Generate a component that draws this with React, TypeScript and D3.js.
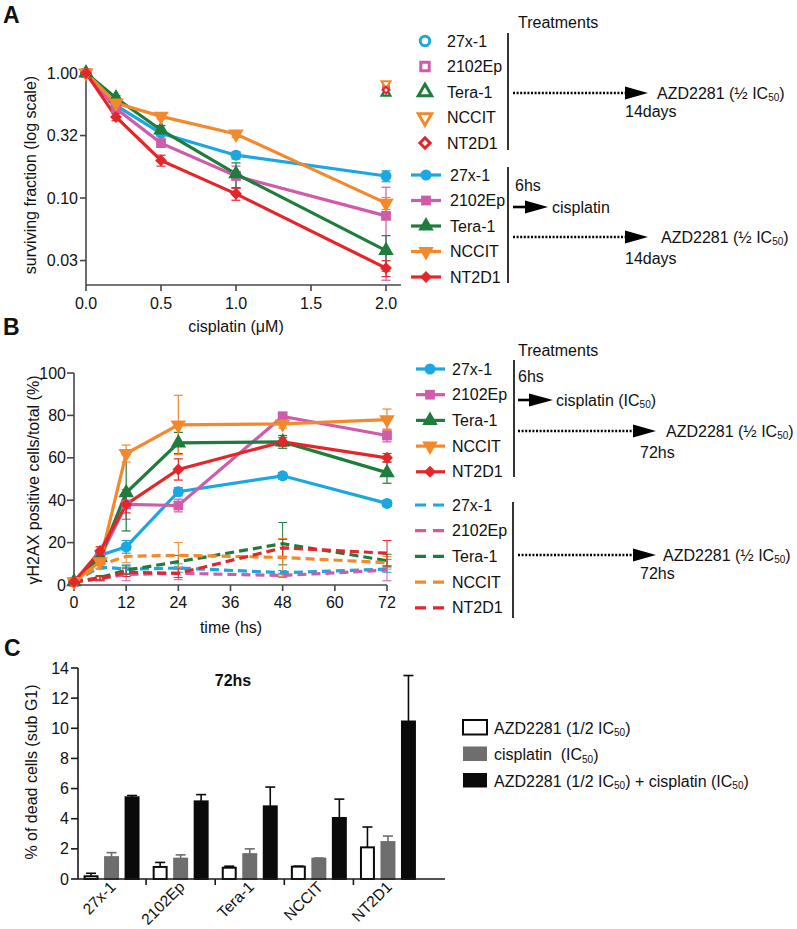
import React from 'react';
import * as d3 from 'd3';

const FONT = '"Liberation Sans", Arial, Helvetica, sans-serif';

const cellLines = ['27x-1', '2102Ep', 'Tera-1', 'NCCIT', 'NT2D1'];
const lineColors = ['#1BA8E0', '#CF5BAA', '#1E7D3C', '#F3892B', '#E4262B'];
const markerShapes = ['circle', 'square', 'triangle', 'triangleDown', 'diamond'];

// ---------- Panel A : clonogenic survival ----------
const doseA = [0, 0.2, 0.5, 1.0, 2.0];
const survA_27x1 = [1, 0.55, 0.33, 0.22, 0.15];
const survA_2102Ep = [1, 0.52, 0.275, 0.15, 0.072];
const survA_Tera1 = [1, 0.63, 0.35, 0.156, 0.038];
const survA_NCCIT = [1, 0.575, 0.45, 0.325, 0.091];
const survA_NT2D1 = [1, 0.445, 0.2, 0.108, 0.0275];
const errA_27x1 = [0, 0.03, 0.02, 0.015, 0.015];
const errA_2102Ep = [0, 0.03, 0.02, 0.03, 0.05];
const errA_Tera1 = [0, 0.03, 0.03, 0.035, 0.012];
const errA_NCCIT = [0, 0.02, 0.02, 0.02, 0.01];
const errA_NT2D1 = [0, 0.03, 0.02, 0.012, 0.004];
const azdAloneA = [0.76, 0.79, 0.69, 0.82, 0.73];
const yTickValsA = [1, 0.316, 0.1, 0.0316];
const yTickLabelsA = ['1.00', '0.32', '0.10', '0.03'];
const xTickValsA = [0, 0.5, 1.0, 1.5, 2.0];
const xTickLabelsA = ['0.0', '0.5', '1.0', '1.5', '2.0'];

// ---------- Panel B : gamma-H2AX ----------
const timeB = [0, 6, 12, 24, 48, 72];
const comboB_27x1 = [1.5, 14, 18, 44, 51.5, 38.5];
const comboB_2102Ep = [1.5, 13, 38, 37.5, 79.5, 70.5];
const comboB_Tera1 = [1.5, 13, 43.5, 67, 67.5, 53];
const comboB_NCCIT = [1.5, 11, 62, 75.5, 76, 78];
const comboB_NT2D1 = [1.5, 16, 38, 54.5, 67.5, 60];
const comboErrB_27x1 = [0.5, 2, 3, 2, 1.5, 1.5];
const comboErrB_2102Ep = [0.5, 2, 7, 3, 2, 3];
const comboErrB_Tera1 = [0.5, 2, 18, 5, 3, 5];
const comboErrB_NCCIT = [0.5, 3, 4, 14, 2, 5];
const comboErrB_NT2D1 = [0.5, 2, 4, 5, 2, 2];
const azdB_27x1 = [1.5, 8.5, 7.5, 8, 5.8, 7.5];
const azdB_2102Ep = [1.5, 3, 5, 5.5, 4.5, 7];
const azdB_Tera1 = [1.5, 3.5, 7, 11, 19.5, 11.5];
const azdB_NCCIT = [1.5, 9.5, 13.5, 14, 13, 10.5];
const azdB_NT2D1 = [1.5, 3, 6, 5.5, 17.5, 15];
const azdErrB_27x1 = [0.5, 1, 2, 2, 1, 1.5];
const azdErrB_2102Ep = [0.5, 1, 3, 3, 1, 5];
const azdErrB_Tera1 = [0.5, 1, 2, 3, 10, 3];
const azdErrB_NCCIT = [0.5, 2, 3, 6, 9, 3];
const azdErrB_NT2D1 = [0.5, 1, 2, 2, 4, 6];
const xTickValsB = [0, 12, 24, 36, 48, 60, 72];
const yTickValsB = [0, 20, 40, 60, 80, 100];

// ---------- Panel C : sub-G1 ----------
const treatmentsC = ['AZD2281 (1/2 IC50)', 'cisplatin (IC50)', 'AZD2281 (1/2 IC50) + cisplatin (IC50)'];
const azdC = [0.18, 0.8, 0.75, 0.82, 2.1];
const azdErrC = [0.2, 0.3, 0.1, 0.03, 1.35];
const cisC = [1.45, 1.35, 1.65, 1.35, 2.45];
const cisErrC = [0.3, 0.25, 0.35, 0.04, 0.4];
const comboC = [5.42, 5.15, 4.82, 4.05, 10.45];
const comboErrC = [0.12, 0.45, 1.28, 1.25, 3.05];
const yTickValsC = [0, 2, 4, 6, 8, 10, 12, 14];

const survivalA = [survA_27x1, survA_2102Ep, survA_Tera1, survA_NCCIT, survA_NT2D1];
const errA = [errA_27x1, errA_2102Ep, errA_Tera1, errA_NCCIT, errA_NT2D1];
const comboB = [comboB_27x1, comboB_2102Ep, comboB_Tera1, comboB_NCCIT, comboB_NT2D1];
const comboErrB = [comboErrB_27x1, comboErrB_2102Ep, comboErrB_Tera1, comboErrB_NCCIT, comboErrB_NT2D1];
const azdB = [azdB_27x1, azdB_2102Ep, azdB_Tera1, azdB_NCCIT, azdB_NT2D1];
const azdErrB = [azdErrB_27x1, azdErrB_2102Ep, azdErrB_Tera1, azdErrB_NCCIT, azdErrB_NT2D1];
const valuesC = [azdC, cisC, comboC];
const errC = [azdErrC, cisErrC, comboErrC];
const barFillC = ['#ffffff', '#6e6e6e', '#0a0a0a'];
const barStrokeC = ['#0a0a0a', '#6e6e6e', '#0a0a0a'];

function markerPath(shape: string, size: number) {
  if (shape === 'circle') return { d: d3.symbol(d3.symbolCircle, size)() as string, rot: 0 };
  if (shape === 'square') return { d: d3.symbol(d3.symbolSquare, size)() as string, rot: 0 };
  if (shape === 'triangle') return { d: d3.symbol(d3.symbolTriangle, size * 1.1)() as string, rot: 0 };
  if (shape === 'triangleDown') return { d: d3.symbol(d3.symbolTriangle, size * 1.1)() as string, rot: 180 };
  return { d: d3.symbol(d3.symbolSquare, size * 0.75)() as string, rot: 45 };
}

function Marker(props: any) {
  const { shape, x, y, size, fill, stroke, strokeWidth } = props;
  const m = markerPath(shape, size);
  return (
    <path d={m.d} transform={`translate(${x},${y}) rotate(${m.rot})`} fill={fill} stroke={stroke || 'none'} strokeWidth={strokeWidth || 0} />
  );
}

function ErrBar(props: any) {
  const { x, y1, y2, color, cap, width } = props;
  const w = cap / 2;
  return (
    <g stroke={color} strokeWidth={width || 1.2} fill="none">
      <line x1={x} x2={x} y1={y1} y2={y2} />
      <line x1={x - w} x2={x + w} y1={y1} y2={y1} />
      <line x1={x - w} x2={x + w} y1={y2} y2={y2} />
    </g>
  );
}

function IC50(props: any) {
  return (
    <>
      IC<tspan fontSize={10} dy={4}>50</tspan>
      <tspan dy={-4}>{props.close || ''}</tspan>
    </>
  );
}

function ArrowHead({ x0, x1, y }: any) {
  return <path d={`M${x0},${y - 6.5}L${x1},${y}L${x0},${y + 6.5}Z`} fill="#000" />;
}

export default function App() {
  // ----- scales -----
  const xA = d3.scaleLinear().domain([0, 2.1]).range([86, 401]);
  const yA = d3.scaleLog().domain([1, 0.02]).range([73, 285.4]);
  const xB = d3.scaleLinear().domain([0, 72]).range([74, 387]);
  const yB = d3.scaleLinear().domain([0, 100]).range([585, 373]);
  const xC = d3.scaleBand().domain(cellLines).range([77, 422.5]).paddingInner(0).paddingOuter(0);
  const xCin = d3.scaleBand().domain(treatmentsC).range([0, xC.bandwidth()]).paddingInner(0.27).paddingOuter(0.32);
  const yC = d3.scaleLinear().domain([0, 14]).range([879, 668]);

  const lineA = d3.line<number>().x((_, i) => xA(doseA[i])).y((d) => yA(d));
  const lineB = d3.line<number>().x((_, i) => xB(timeB[i])).y((d) => yB(d));

  const axisColor = '#474747';
  const txt = '#111';

  return (
    <svg width={797} height={929} style={{ position: 'absolute', left: 0, top: 0, background: '#fff' }} fontFamily={FONT} fill={txt}>
      <rect x={0} y={0} width={797} height={929} fill="#fff" />

      {/* ================= PANEL A ================= */}
      <text x={3} y={23} fontSize={23} fontWeight="bold">A</text>
      <g stroke={axisColor} strokeWidth={1.6}>
        <line x1={86} x2={86} y1={yA(1)} y2={285} />
        <line x1={86} x2={401} y1={285} y2={285} />
        {yTickValsA.map((v) => (
          <line key={v} x1={80} x2={86} y1={yA(v)} y2={yA(v)} />
        ))}
        {xTickValsA.map((v) => (
          <line key={v} x1={xA(v)} x2={xA(v)} y1={285} y2={291} />
        ))}
      </g>
      {yTickValsA.map((v, i) => (
        <text key={v} x={78} y={yA(v)} fontSize={16} textAnchor="end" dominantBaseline="central">{yTickLabelsA[i]}</text>
      ))}
      {xTickValsA.map((v, i) => (
        <text key={v} x={xA(v)} y={303} fontSize={16} textAnchor="middle" dominantBaseline="central">{xTickLabelsA[i]}</text>
      ))}
      <text x={236} y={326} fontSize={16} textAnchor="middle" dominantBaseline="central">cisplatin (μM)</text>
      <text transform="translate(30,175) rotate(-90)" fontSize={16} textAnchor="middle" dominantBaseline="central">surviving fraction (log scale)</text>

      {survivalA.map((s, k) =>
        s.map((v, i) =>
          errA[k][i] > 0 ? (
            <ErrBar key={`ea${k}-${i}`} x={xA(doseA[i])} y1={yA(v + errA[k][i])} y2={yA(Math.max(0.021, v - errA[k][i]))} color={lineColors[k]} cap={9} />
          ) : null
        )
      )}
      {survivalA.map((s, k) => (
        <path key={`la${k}`} d={lineA(s) as string} fill="none" stroke={lineColors[k]} strokeWidth={3.2} />
      ))}
      {survivalA.map((s, k) =>
        s.map((v, i) => (
          <Marker key={`ma${k}-${i}`} shape={markerShapes[k]} x={xA(doseA[i])} y={yA(v)} size={95} fill={lineColors[k]} />
        ))
      )}
      {azdAloneA.map((v, k) => (
        <Marker key={`oa${k}`} shape={markerShapes[k]} x={xA(2.0)} y={yA(v)} size={30} fill="#fff" stroke={lineColors[k]} strokeWidth={2.2} />
      ))}

      {cellLines.map((c, k) => (
        <g key={`lgo${k}`}>
          <Marker shape={markerShapes[k]} x={425} y={41 + k * 25.5} size={70} fill="#fff" stroke={lineColors[k]} strokeWidth={3} />
          <text x={447} y={41 + k * 25.5} fontSize={16} dominantBaseline="central">{c}</text>
        </g>
      ))}
      {cellLines.map((c, k) => (
        <g key={`lgf${k}`}>
          <line x1={411} x2={441} y1={175 + k * 25.5} y2={175 + k * 25.5} stroke={lineColors[k]} strokeWidth={3.2} />
          <Marker shape={markerShapes[k]} x={426} y={175 + k * 25.5} size={95} fill={lineColors[k]} />
          <text x={450} y={175 + k * 25.5} fontSize={16} dominantBaseline="central">{c}</text>
        </g>
      ))}

      <text x={518} y={22} fontSize={16} dominantBaseline="central">Treatments</text>
      <g stroke="#000" strokeWidth={1.6}>
        <line x1={508} x2={508} y1={33} y2={150} />
        <line x1={508} x2={508} y1={167} y2={283} />
      </g>
      <line x1={513} x2={626} y1={93} y2={93} stroke="#000" strokeWidth={2.6} strokeDasharray="2,1.6" />
      <ArrowHead x0={625} x1={648} y={93} />
      <text x={657} y={93} fontSize={16} dominantBaseline="central">AZD2281 (½ <IC50 close=")" /></text>
      <text x={625} y={111} fontSize={16} dominantBaseline="central">14days</text>

      <text x={515} y={185} fontSize={16} dominantBaseline="central">6hs</text>
      <line x1={513} x2={530} y1={207} y2={207} stroke="#000" strokeWidth={2.6} />
      <ArrowHead x0={525} x1={548} y={207} />
      <text x={552} y={207} fontSize={16} dominantBaseline="central">cisplatin</text>
      <line x1={513} x2={626} y1={237} y2={237} stroke="#000" strokeWidth={2.6} strokeDasharray="2,1.6" />
      <ArrowHead x0={625} x1={648} y={237} />
      <text x={661} y={237} fontSize={16} dominantBaseline="central">AZD2281 (½ <IC50 close=")" /></text>
      <text x={625} y={258} fontSize={16} dominantBaseline="central">14days</text>

      {/* ================= PANEL B ================= */}
      <text x={3} y={335} fontSize={23} fontWeight="bold">B</text>
      <g stroke={axisColor} strokeWidth={1.6}>
        <line x1={74} x2={74} y1={373} y2={585} />
        <line x1={74} x2={387} y1={585} y2={585} />
        {yTickValsB.map((v) => (
          <line key={v} x1={67} x2={74} y1={yB(v)} y2={yB(v)} />
        ))}
        {xTickValsB.map((v) => (
          <line key={v} x1={xB(v)} x2={xB(v)} y1={585} y2={591} />
        ))}
      </g>
      {yTickValsB.map((v) => (
        <text key={v} x={66} y={yB(v)} fontSize={16} textAnchor="end" dominantBaseline="central">{v}</text>
      ))}
      {xTickValsB.map((v) => (
        <text key={v} x={xB(v)} y={602} fontSize={16} textAnchor="middle" dominantBaseline="central">{v}</text>
      ))}
      <text x={231} y={627} fontSize={16} textAnchor="middle" dominantBaseline="central">time (hs)</text>
      <text transform="translate(33,480) rotate(-90)" fontSize={16} textAnchor="middle" dominantBaseline="central">γH2AX positive cells/total (%)</text>

      {azdB.map((s, k) =>
        s.map((v, i) => (
          <ErrBar key={`eb2${k}-${i}`} x={xB(timeB[i])} y1={yB(v + azdErrB[k][i])} y2={yB(Math.max(0, v - azdErrB[k][i]))} color={lineColors[k]} cap={9} width={1} />
        ))
      )}
      {comboB.map((s, k) =>
        s.map((v, i) => (
          <ErrBar key={`eb${k}-${i}`} x={xB(timeB[i])} y1={yB(v + comboErrB[k][i])} y2={yB(Math.max(0, v - comboErrB[k][i]))} color={lineColors[k]} cap={9} width={1.2} />
        ))
      )}
      {azdB.map((s, k) => (
        <path key={`lb2${k}`} d={lineB(s) as string} fill="none" stroke={lineColors[k]} strokeWidth={3.2} strokeDasharray="9,5" />
      ))}
      {comboB.map((s, k) => (
        <path key={`lb${k}`} d={lineB(s) as string} fill="none" stroke={lineColors[k]} strokeWidth={3.2} />
      ))}
      {comboB.map((s, k) =>
        s.map((v, i) => (
          <Marker key={`mb${k}-${i}`} shape={markerShapes[k]} x={xB(timeB[i])} y={yB(v)} size={95} fill={lineColors[k]} />
        ))
      )}

      {cellLines.map((c, k) => (
        <g key={`lgb${k}`}>
          <line x1={416} x2={445} y1={369 + k * 25.7} y2={369 + k * 25.7} stroke={lineColors[k]} strokeWidth={3.2} />
          <Marker shape={markerShapes[k]} x={430} y={369 + k * 25.7} size={95} fill={lineColors[k]} />
          <text x={452} y={369 + k * 25.7} fontSize={16} dominantBaseline="central">{c}</text>
        </g>
      ))}
      {cellLines.map((c, k) => (
        <g key={`lgb2${k}`}>
          <line x1={415} x2={446} y1={505 + k * 25.7} y2={505 + k * 25.7} stroke={lineColors[k]} strokeWidth={3.2} strokeDasharray="11,7" />
          <text x={452} y={505 + k * 25.7} fontSize={16} dominantBaseline="central">{c}</text>
        </g>
      ))}

      <text x={518} y={350} fontSize={16} dominantBaseline="central">Treatments</text>
      <g stroke="#000" strokeWidth={1.6}>
        <line x1={514} x2={514} y1={360} y2={477} />
        <line x1={513} x2={513} y1={502} y2={618} />
      </g>
      <text x={518} y={376} fontSize={16} dominantBaseline="central">6hs</text>
      <line x1={518} x2={534} y1={400} y2={400} stroke="#000" strokeWidth={2.6} />
      <ArrowHead x0={529} x1={553} y={400} />
      <text x={556} y={400} fontSize={16} dominantBaseline="central">cisplatin (<IC50 close=")" /></text>
      <line x1={518} x2={634} y1={431} y2={431} stroke="#000" strokeWidth={2.6} strokeDasharray="2,1.6" />
      <ArrowHead x0={633} x1={656} y={431} />
      <text x={666} y={431} fontSize={16} dominantBaseline="central">AZD2281 (½ <IC50 close=")" /></text>
      <text x={640} y={452} fontSize={16} dominantBaseline="central">72hs</text>
      <line x1={518} x2={634} y1={555} y2={555} stroke="#000" strokeWidth={2.6} strokeDasharray="2,1.6" />
      <ArrowHead x0={633} x1={656} y={555} />
      <text x={663} y={555} fontSize={16} dominantBaseline="central">AZD2281 (½ <IC50 close=")" /></text>
      <text x={640} y={573} fontSize={16} dominantBaseline="central">72hs</text>

      {/* ================= PANEL C ================= */}
      <text x={4} y={656} fontSize={23} fontWeight="bold">C</text>
      <text x={233} y={680} fontSize={16} fontWeight="bold" textAnchor="middle" dominantBaseline="central">72hs</text>
      {valuesC.map((vals, t) =>
        vals.map((v, g) => {
          const x0 = (xC(cellLines[g]) as number) + (xCin(treatmentsC[t]) as number);
          const bw = xCin.bandwidth();
          const stroke = barStrokeC[t];
          return (
            <g key={`bc${t}-${g}`}>
              <line x1={x0 + bw / 2} x2={x0 + bw / 2} y1={yC(v)} y2={yC(v + errC[t][g])} stroke={stroke} strokeWidth={1.6} />
              <line x1={x0 + bw / 2 - 5} x2={x0 + bw / 2 + 5} y1={yC(v + errC[t][g])} y2={yC(v + errC[t][g])} stroke={stroke} strokeWidth={1.6} />
              <rect x={x0 + 1} y={yC(v)} width={bw - 2} height={yC(0) - yC(v)} fill={barFillC[t]} stroke={stroke} strokeWidth={2} />
            </g>
          );
        })
      )}
      <g stroke="#1a1a1a" strokeWidth={1.6}>
        <line x1={78} x2={78} y1={668} y2={879} />
        <line x1={78} x2={445} y1={879} y2={879} />
        {yTickValsC.map((v) => (
          <line key={v} x1={71} x2={78} y1={yC(v)} y2={yC(v)} />
        ))}
        {cellLines.slice(1).map((c) => (
          <line key={c} x1={xC(c) as number} x2={xC(c) as number} y1={879} y2={885} />
        ))}
      </g>
      {yTickValsC.map((v) => (
        <text key={v} x={69} y={yC(v)} fontSize={16} textAnchor="end" dominantBaseline="central">{v}</text>
      ))}
      {cellLines.map((c) => {
        const cx = (xC(c) as number) + xC.bandwidth() / 2;
        return (
          <text key={c} transform={`translate(${cx + 5},${888}) rotate(-45)`} fontSize={15.5} textAnchor="end">{c}</text>
        );
      })}
      <text transform="translate(31,772) rotate(-90)" fontSize={16} textAnchor="middle" dominantBaseline="central">% of dead cells (sub G1)</text>

      {treatmentsC.map((t, i) => (
        <rect key={t} x={463} y={720 + i * 26.5} width={24} height={14.5} fill={barFillC[i]} stroke={barStrokeC[i]} strokeWidth={i === 0 ? 2 : 0} />
      ))}
      <text x={494} y={728} fontSize={16} dominantBaseline="central">AZD2281 (1/2 <IC50 close=")" /></text>
      <text x={494} y={754.5} fontSize={16} dominantBaseline="central">{'cisplatin\u00A0\u00A0('}<IC50 close=")" /></text>
      <text x={494} y={781} fontSize={16} dominantBaseline="central">AZD2281 (1/2 <IC50 close=")" /> + cisplatin (<IC50 close=")" /></text>
    </svg>
  );
}
